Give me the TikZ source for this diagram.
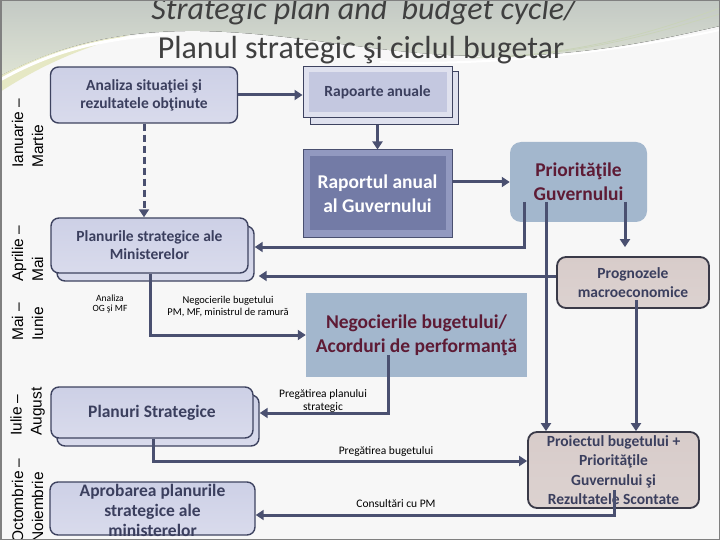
\documentclass[tikz,border=0pt]{standalone}
\usepackage{fontspec}
\setmainfont{Carlito}
\newfontfamily\arialf{Liberation Sans}
\usetikzlibrary{arrows.meta,calc}
\definecolor{conncol}{HTML}{4A5070}
\definecolor{bordcol}{HTML}{3E4360}
\definecolor{lavtop}{HTML}{CDD0E6}
\definecolor{lavmid}{HTML}{B0B4D4}
\definecolor{lavbot}{HTML}{D9DBEC}
\definecolor{boxtext}{HTML}{3B3F5E}
\definecolor{raport}{HTML}{737BA6}
\definecolor{raportedge}{HTML}{9299C0}
\definecolor{rapin}{HTML}{C4C8E0}
\definecolor{rapedge}{HTML}{DFE1EE}
\definecolor{bluebox}{HTML}{A3B7CD}
\definecolor{maroon}{HTML}{5E1B35}
\definecolor{beigetop}{HTML}{D8CCCA}
\definecolor{beigemid}{HTML}{C0AFAC}
\definecolor{beigebot}{HTML}{DCD2D0}
\definecolor{beigebord}{HTML}{3A3A48}
\definecolor{bgcol}{HTML}{F7F7F7}
\definecolor{titlecol}{HTML}{404040}
\definecolor{swA}{HTML}{C3C9C4}
\definecolor{swB}{HTML}{DEE3D4}
\definecolor{swY}{HTML}{E6E8C4}
\definecolor{swL}{HTML}{C9D3B8}
\begin{document}
\begin{tikzpicture}[x=1pt,y=-1pt,
  conn/.style={draw=conncol, line width=3pt, -{Triangle[length=8pt,width=10pt]}},
  lavbox/.style={rounded corners=8pt, draw=bordcol, line width=1.4pt,
    top color=lavtop, middle color=lavmid, bottom color=lavbot,
    text=boxtext, align=center, inner sep=0pt},
  lavfont/.style={font=\bfseries\fontsize{15.5}{18}\selectfont},
  bigfont/.style={font=\bfseries\fontsize{17.5}{21}\selectfont},
  blueboxst/.style={fill=bluebox, text=maroon, align=center, inner sep=0pt,
    font=\bfseries\fontsize{19.5}{24}\selectfont},
  beigebox/.style={rounded corners=9pt, draw=beigebord, line width=1.8pt,
    top color=beigetop, middle color=beigemid, bottom color=beigebot,
    text=boxtext, align=center, inner sep=0pt,
    font=\bfseries\fontsize{15.5}{19.5}\selectfont},
  monthlbl/.style={rotate=90, anchor=west, align=left, inner sep=0pt,
    font=\arialf\fontsize{15.5}{20}\selectfont},
  smalllbl/.style={align=center, inner sep=0pt, text=black}
]
\useasboundingbox (0,0) rectangle (720,540);
\clip (0,0) rectangle (720,540);
% background
\fill[bgcol] (0,0) rectangle (720,540);
\fill[top color=swA, bottom color=swB] (0,0) -- (720,0) -- (720,26)
  .. controls (650,42) and (580,57) .. (480,56)
  .. controls (380,55) and (300,33) .. (200,31)
  .. controls (120,30) and (60,45) .. (0,76) -- cycle;
\fill[swY] (0,76) .. controls (40,55) and (80,42) .. (130,35)
  .. controls (80,48) and (40,66) .. (0,92) -- cycle;
\draw[white, line width=3pt] (0,80) .. controls (50,52) and (100,38) .. (170,34);
\draw[swL, line width=0.7pt] (470,58) .. controls (580,56) and (660,30) .. (720,8);
\draw[swL, line width=0.7pt] (500,57) .. controls (600,52) and (670,28) .. (720,14);
\draw[white, line width=2pt] (380,62) .. controls (480,66) and (600,55) .. (720,30);

% title
\node[font=\fontsize{32}{38}\selectfont\itshape, text=titlecol, anchor=base, inner sep=0pt] (t1) at (364,20) {Strategic plan and\ \ budget cycle/};
\node[font=\fontsize{32}{38}\selectfont, text=titlecol, anchor=base, inner sep=0pt] (t2) at (361,59) {Planul strategic şi ciclul bugetar};

% month labels
\node[monthlbl] (m1) at (27.5,168) {Ianuarie –\\Martie};
\node[monthlbl] (m2) at (27.5,282) {Aprilie –\\Mai};
\node[monthlbl] (m3) at (27.5,341) {Mai –\\Iunie};
\node[monthlbl] (m4) at (27.5,436) {Iulie –\\August};
\node[monthlbl] (m5) at (27.5,543) {Octombrie –\\Noiembrie};

% shadows
\node[lavbox, minimum width=197pt, minimum height=55pt] (planurileS) at (155.5,253.5) {};
\node[lavbox, minimum width=202pt, minimum height=51pt] (planuriS) at (158,420.5) {};
\node[draw=bordcol, line width=1pt, fill=rapedge, minimum width=148pt, minimum height=53pt, inner sep=0pt] (rapS) at (384,98.5) {};

% boxes
\node[lavbox, lavfont, minimum width=187pt, minimum height=56pt] (analiza) at (144,95) {Analiza situaţiei şi\\rezultatele obţinute};
\node[draw=bordcol, line width=1pt, fill=rapedge, minimum width=149pt, minimum height=51pt, inner sep=0pt] (rapoarte) at (377.5,92.5) {};
\fill[rapin] ($(rapoarte.north west)+(6,6)$) rectangle ($(rapoarte.south east)+(-6,-6)$);
\node[lavfont, text=boxtext, inner sep=0pt] (rapoarteT) at (rapoarte.center) {Rapoarte anuale};

\node[draw=conncol, line width=1pt, fill=raportedge, minimum width=149pt, minimum height=87pt, inner sep=0pt] (raportul) at (377.5,193.5) {};
\fill[raport] ($(raportul.north west)+(7,7)$) rectangle ($(raportul.south east)+(-7,-7)$);
\node[text=white, align=center, inner sep=0pt, font=\bfseries\fontsize{19.5}{24}\selectfont] (raportulT) at (raportul.center) {Raportul anual\\al Guvernului};

\node[blueboxst, rounded corners=11pt, minimum width=137pt, minimum height=80pt] (prioritati) at (578.5,182) {Priorităţile\\Guvernului};

\node[lavbox, lavfont, minimum width=197pt, minimum height=55pt] (planurile) at (149.5,245.5) {Planurile strategice ale\\Ministerelor};

\node[beigebox, minimum width=152pt, minimum height=51pt] (prognozele) at (633,282.5) {Prognozele\\macroeconomice};

\node[blueboxst, minimum width=221pt, minimum height=84pt] (negocierile) at (416.5,335) {Negocierile bugetului/\\Acorduri de performanţă};

\node[lavbox, bigfont, minimum width=202pt, minimum height=51pt] (planuri) at (152,412.5) {Planuri Strategice};

\node[lavbox, minimum width=205pt, minimum height=53pt] (aprobarea) at (152.5,508.5) {};
\node[bigfont, text=boxtext, align=center, inner sep=0pt, font=\bfseries\fontsize{17.5}{20}\selectfont] (aprobareaT) at (152.5,510) {Aprobarea planurile\\strategice ale\\ministerelor};

\node[beigebox, minimum width=171pt, minimum height=76pt] (proiectul) at (613.5,470) {Proiectul bugetului +\\Priorităţile\\Guvernului şi\\Rezultatele Scontate};

% connectors
\draw[conn] (analiza.east) -- (analiza.east -| rapoarte.west);
\draw[conn, dash pattern=on 7pt off 4pt] (analiza.south) -- (analiza.south |- planurile.north);
\draw[conn] (rapS.south -| rapoarte.south) -- (raportul.north);
\draw[conn] (prioritati.west -| raportul.east) -- (prioritati.west);

\coordinate (a0) at (524,202);
\coordinate (a1) at (524,247);
\draw[conn] (a0) -- (a1) -- (a1 -| planurileS.east);
\coordinate (b0) at (546,202);
\draw[conn] (b0) -- (proiectul.north -| b0);
\coordinate (c0) at (625,202);
\draw[conn, shorten >=9pt] (c0) -- (prognozele.north -| c0);
\coordinate (d0) at (636,300);
\draw[conn] (d0) -- (proiectul.north -| d0);
\coordinate (e0) at (0,276);
\draw[conn, shorten >=4pt] (prognozele.west |- e0) -- (planurileS.east |- e0);
\coordinate (f0) at (150,0);
\draw[conn] (planurile.south -| f0) |- (negocierile.west);
\coordinate (g0) at (388,355);
\coordinate (g1) at (388,413);
\draw[conn] (g0) -- (g1) -- (g1 -| planuriS.east);
\coordinate (h1) at (153,461);
\draw[conn] (planuri.south -| h1) -- (h1) -- (h1 -| proiectul.west);
\coordinate (i0) at (614,490);
\coordinate (i1) at (614,515);
\draw[conn] (i0) -- (i1) -- (i1 -| aprobarea.east);

% small labels
\node[smalllbl, font=\fontsize{9.5}{10.5}\selectfont] (lab1) at (110,304) {Analiza\\OG şi MF};
\node[smalllbl, font=\fontsize{10.5}{12}\selectfont] (lab2) at (228,307) {Negocierile bugetului\\PM, MF, ministrul de ramură};
\node[smalllbl, font=\fontsize{11.5}{13}\selectfont] (lab3) at (323,401) {Pregătirea planului\\strategic};
\node[smalllbl, font=\fontsize{11.5}{13}\selectfont] (lab4) at (386,451) {Pregătirea bugetului};
\node[smalllbl, font=\fontsize{11.5}{13}\selectfont] (lab5) at (396,504) {Consultări cu PM};

% frame
\draw[gray, line width=1.5pt] (0.75,0.75) rectangle (719.25,539.25);
\end{tikzpicture}
\end{document}
